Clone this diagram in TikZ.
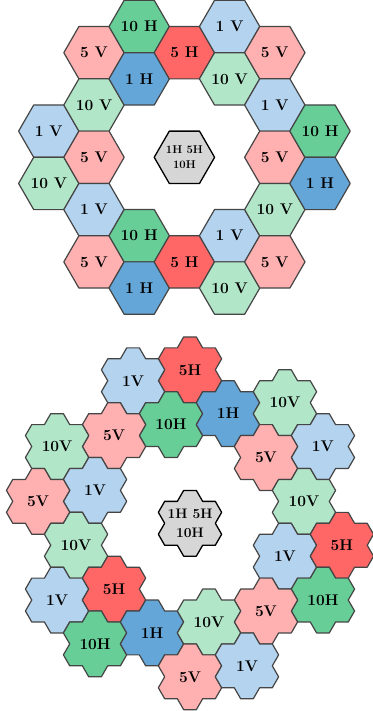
\documentclass[tikz,border=0pt]{standalone}
\usepackage{fontspec}
\setmainfont{Latin Modern Roman}
\usetikzlibrary{calc}
\definecolor{cOV}{HTML}{B3D3EE}
\definecolor{cOH}{HTML}{64A6D8}
\definecolor{cFV}{HTML}{FFB0B0}
\definecolor{cFH}{HTML}{FF6666}
\definecolor{cTV}{HTML}{B2E6C8}
\definecolor{cTH}{HTML}{66CE96}
\definecolor{cGR}{HTML}{D6D6D6}
\definecolor{edgec}{HTML}{454545}
\tikzset{
  tile/.style={draw=edgec, line width=1.2pt, line join=round},
  oneV/.style={tile, fill=cOV},
  oneH/.style={tile, fill=cOH},
  fiveV/.style={tile, fill=cFV},
  fiveH/.style={tile, fill=cFH},
  tenV/.style={tile, fill=cTV},
  tenH/.style={tile, fill=cTH},
  ctr/.style={draw=black, line width=1.3pt, line join=round, fill=cGR},
  lblT/.style={font=\fontsize{15.5}{18}\selectfont\bfseries, inner sep=0pt},
  lblC/.style={font=\fontsize{11.3}{15.5}\selectfont\bfseries, inner sep=0pt, align=center},
  lblD/.style={font=\fontsize{13.8}{19.5}\selectfont\bfseries, inner sep=0pt, align=center},
}
% hexagon tile: name, x, y, style, label style, text
\newcommand\hexT[6]{%
  \draw[#4] (#2,#3) ++(30.2,0) -- ++(120:30.2) -- ++(180:30.2) -- ++(240:30.2) -- ++(300:30.2) -- ++(0:30.2) -- cycle;
  \node[#5] (#1) at (#2,#3) {#6};}
% flower tile: name, x, y, style, label style, text
\newcommand\flwT[6]{%
  \draw[#4, shift={(#2,#3)}] (-6.33,-32.89) -- (6.33,-32.89) -- (12.66,-21.93) -- (25.32,-21.93) -- (31.65,-10.96) -- (25.32,0) -- (31.65,10.96) -- (25.32,21.93) -- (12.66,21.93) -- (6.33,32.89) -- (-6.33,32.89) -- (-12.66,21.93) -- (-25.32,21.93) -- (-31.65,10.96) -- (-25.32,0) -- (-31.65,-10.96) -- (-25.32,-21.93) -- (-12.66,-21.93) -- cycle;
  \node[#5] (#1) at (#2,#3) {#6};}
\begin{document}
\begin{tikzpicture}[x=1pt, y=-1pt]
\useasboundingbox (0,0) rectangle (372,711);
% ---------- top figure: hexagons ----------
% columns x = 184.4 + 45.2 c ; rows y = 157.3 + 26.15 k
\hexT{a1}{48.8}{131.15}{oneV}{lblT}{1 V}
\hexT{a2}{48.8}{183.45}{tenV}{lblT}{10 V}
\hexT{a3}{94.0}{52.7}{fiveV}{lblT}{5 V}
\hexT{a4}{94.0}{105.0}{tenV}{lblT}{10 V}
\hexT{a5}{94.0}{157.3}{fiveV}{lblT}{5 V}
\hexT{a6}{94.0}{209.6}{oneV}{lblT}{1 V}
\hexT{a7}{94.0}{261.9}{fiveV}{lblT}{5 V}
\hexT{a8}{139.2}{26.55}{tenH}{lblT}{10 H}
\hexT{a9}{139.2}{78.85}{oneH}{lblT}{1 H}
\hexT{a10}{139.2}{235.75}{tenH}{lblT}{10 H}
\hexT{a11}{139.2}{288.05}{oneH}{lblT}{1 H}
\hexT{a12}{184.4}{52.7}{fiveH}{lblT}{5 H}
\hexT{a13}{184.4}{157.3}{ctr}{lblC}{1H 5H\\10H}
\hexT{a14}{184.4}{261.9}{fiveH}{lblT}{5 H}
\hexT{a15}{229.6}{26.55}{oneV}{lblT}{1 V}
\hexT{a16}{229.6}{78.85}{tenV}{lblT}{10 V}
\hexT{a17}{229.6}{235.75}{oneV}{lblT}{1 V}
\hexT{a18}{229.6}{288.05}{tenV}{lblT}{10 V}
\hexT{a19}{274.8}{52.7}{fiveV}{lblT}{5 V}
\hexT{a20}{274.8}{105.0}{oneV}{lblT}{1 V}
\hexT{a21}{274.8}{157.3}{fiveV}{lblT}{5 V}
\hexT{a22}{274.8}{209.6}{tenV}{lblT}{10 V}
\hexT{a23}{274.8}{261.9}{fiveV}{lblT}{5 V}
\hexT{a24}{320.0}{131.15}{tenH}{lblT}{10 H}
\hexT{a25}{320.0}{183.45}{oneH}{lblT}{1 H}
% ---------- bottom figure: seven-hexagon flowers ----------
\flwT{b0}{190.00}{523.30}{ctr}{lblD}{1H 5H\\10H}
\flwT{b1}{190.00}{369.80}{fiveH}{lblT}{5H}
\flwT{b2}{133.06}{380.76}{oneV}{lblT}{1V}
\flwT{b3}{171.01}{424.62}{tenH}{lblT}{10H}
\flwT{b4}{227.98}{413.66}{oneH}{lblT}{1H}
\flwT{b5}{284.95}{402.70}{tenV}{lblT}{10V}
\flwT{b6}{114.04}{435.58}{fiveV}{lblT}{5V}
\flwT{b7}{57.07}{446.54}{tenV}{lblT}{10V}
\flwT{b8}{322.93}{446.56}{oneV}{lblT}{1V}
\flwT{b9}{265.96}{457.52}{fiveV}{lblT}{5V}
\flwT{b10}{95.05}{490.40}{oneV}{lblT}{1V}
\flwT{b11}{38.08}{501.36}{fiveV}{lblT}{5V}
\flwT{b12}{303.94}{501.38}{tenV}{lblT}{10V}
\flwT{b13}{76.06}{545.22}{tenV}{lblT}{10V}
\flwT{b14}{284.95}{556.20}{oneV}{lblT}{1V}
\flwT{b15}{341.92}{545.24}{fiveH}{lblT}{5H}
\flwT{b16}{57.07}{600.04}{oneV}{lblT}{1V}
\flwT{b17}{114.04}{589.08}{fiveH}{lblT}{5H}
\flwT{b18}{322.93}{600.06}{tenH}{lblT}{10H}
\flwT{b19}{265.96}{611.02}{fiveV}{lblT}{5V}
\flwT{b20}{95.05}{643.90}{tenH}{lblT}{10H}
\flwT{b21}{152.02}{632.94}{oneH}{lblT}{1H}
\flwT{b22}{208.99}{621.98}{tenV}{lblT}{10V}
\flwT{b23}{190.00}{676.80}{fiveV}{lblT}{5V}
\flwT{b24}{246.97}{665.84}{oneV}{lblT}{1V}
\end{tikzpicture}
\end{document}
